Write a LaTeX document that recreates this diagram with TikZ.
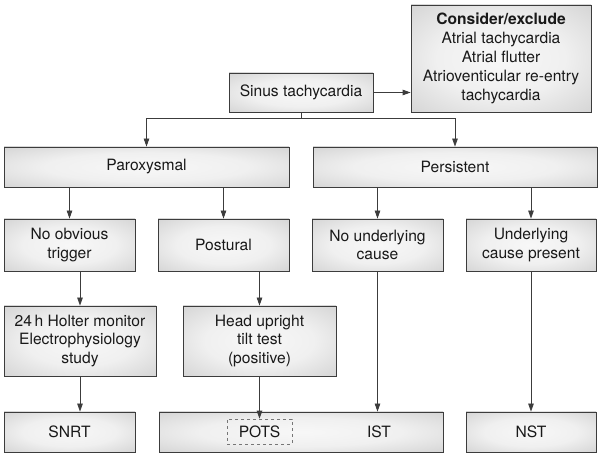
\documentclass[tikz,border=0pt]{standalone}
\usepackage{fontspec}
\setmainfont{TeX Gyre Heros}
\usetikzlibrary{arrows.meta}
\definecolor{edge}{RGB}{60,60,60}
\definecolor{ink}{RGB}{25,25,25}
\pgfdeclareradialshading{boxshade}{\pgfpoint{0bp}{0bp}}{color(0bp)=(gray!6); color(18bp)=(gray!12); color(50bp)=(gray!50); color(72bp)=(gray!60)}
\begin{document}
\begin{tikzpicture}[x=1pt,y=1pt,
  box/.style={draw=edge, line width=0.8pt, shading=boxshade, inner sep=0pt, align=center,
    text=ink, font=\fontsize{15.6}{18.2}\selectfont},
  potsbox/.style={draw=edge!70, dashed, line width=0.6pt, fill=white!0, fill opacity=0, text opacity=1, inner sep=0pt,
    minimum width=65pt, minimum height=25pt, text=ink, font=\fontsize{15.6}{18.2}\selectfont},
  lbl/.style={inner sep=0pt, text=ink, font=\fontsize{15.6}{18.2}\selectfont},
  conn/.style={draw=edge, line width=0.8pt},
  arr/.style={conn, -{Triangle[length=8pt,width=5.5pt]}}]
\useasboundingbox (0,0) rectangle (600,455);
\fill[white] (0,0) rectangle (600,455);
% row 0
\node[box, minimum width=144pt, minimum height=39pt] (sinus) at (301,362.5) {Sinus tachycardia};
\node[box, minimum width=180pt, minimum height=107pt, font=\fontsize{15.6}{19}\selectfont] (consider) at (501,396.5)
  {\textbf{Consider/exclude}\\Atrial tachycardia\\Atrial flutter\\Atrioventicular re-entry\\tachycardia};
% row 1
\node[box, minimum width=285pt, minimum height=40pt] (parox) at (146.5,288) {Paroxysmal};
\node[box, minimum width=284pt, minimum height=40pt] (persist) at (455,288) {Persistent};
% row 2
\node[box, minimum width=131pt, minimum height=52pt] (noobv) at (69.5,210) {No obvious\\trigger};
\node[box, minimum width=131pt, minimum height=52pt] (postural) at (223.5,210) {Postural};
\node[box, minimum width=131pt, minimum height=52pt] (nounder) at (377.5,210) {No underlying\\cause};
\node[box, minimum width=130pt, minimum height=52pt] (under) at (531,210) {Underlying\\cause present};
% row 3
\node[box, minimum width=152pt, minimum height=70pt] (holter) at (80,114) {24\,h Holter monitor\\Electrophysiology\\study};
\node[box, minimum width=153pt, minimum height=70pt] (head) at (259.5,114) {Head upright\\tilt test\\(positive)};
% row 4
\node[box, minimum width=131pt, minimum height=40pt] (snrt) at (69.5,23) {SNRT};
\node[box, minimum width=284pt, minimum height=40pt] (mid) at (301,23) {};
\node[box, minimum width=130pt, minimum height=40pt] (nst) at (531,23) {NST};
\node[potsbox] (pots) at (259.5,23.5) {POTS};
\node[lbl] (ist) at (379,23) {IST};
% connectors
\draw[arr] (sinus.east) -- (sinus.east -| consider.west);
\draw[conn] (sinus.south) -- ++(0,-6.5) coordinate (j);
\draw[arr] (j) -| (parox.north);
\draw[arr] (j) -| (persist.north);
\draw[arr] (parox.south -| noobv.north) -- (noobv.north);
\draw[arr] (parox.south -| postural.north) -- (postural.north);
\draw[arr] (persist.south -| nounder.north) -- (nounder.north);
\draw[arr] (persist.south -| under.north) -- (under.north);
\draw[arr] (noobv.south -| holter.north) -- (holter.north);
\draw[arr] (postural.south -| head.north) -- (head.north);
\draw[arr] (holter.south) -- (holter.south |- snrt.north);
\draw[arr] (head.south) -- (pots.north);
\draw[arr] (nounder.south) -- (nounder.south |- mid.north);
\draw[arr] (under.south) -- (under.south |- nst.north);
\end{tikzpicture}
\end{document}
